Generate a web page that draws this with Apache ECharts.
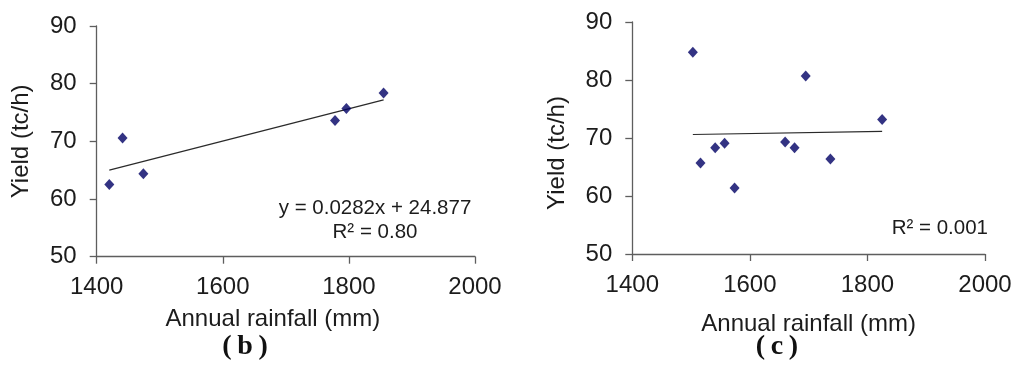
<!DOCTYPE html>
<html>
<head>
<meta charset="utf-8">
<script src="https://cdn.jsdelivr.net/npm/echarts@6/dist/echarts.min.js"></script>
<style>
html,body{margin:0;padding:0;background:#fff;}
#chart{width:1024px;height:370px;}
</style>
</head>
<body>
<div id="chart"></div>
<script>
// Panel (b)
var rainB = [1420, 1441, 1474, 1778, 1796, 1855];
var yieldB = [62.5, 70.6, 64.4, 73.6, 75.7, 78.4];
var trendB = [[1420, 65.0], [1855, 77.2]];
var eqB = ['y = 0.0282x + 24.877', 'R\u00B2 = 0.80'];

// Panel (c)
var rainC = [1503, 1516, 1541, 1557, 1574, 1660, 1676, 1695, 1737, 1825];
var yieldC = [84.8, 65.7, 68.3, 69.1, 61.4, 69.3, 68.3, 80.7, 66.4, 73.2];
var trendC = [[1503, 70.6], [1825, 71.15]];
var eqC = ['R\u00B2 = 0.001'];

var xTicks = {min: 1400, max: 2000, interval: 200};
var yTicks = {min: 50, max: 90, interval: 10};
var xTitle = 'Annual rainfall (mm)';
var yTitle = 'Yield (tc/h)';
var panelLabels = ['(\u2009b\u2009)', '(\u2009c\u2009)'];

function pairs(xs, ys) { return xs.map(function (x, i) { return [x, ys[i]]; }); }

var FONT = '"Liberation Sans", Arial, sans-serif';
var TXT = '#1c1c1c';
var AX = '#5e5e5e';

function xAxis(gridIndex, gap, pad, margin) {
  return {
    type: 'value', gridIndex: gridIndex,
    min: xTicks.min, max: xTicks.max, interval: xTicks.interval,
    name: xTitle, nameLocation: 'middle', nameGap: gap,
    nameTextStyle: {fontFamily: FONT, fontSize: 24, color: TXT, padding: pad},
    axisLine: {show: true, lineStyle: {color: AX, width: 1.3}},
    axisTick: {show: true, length: 7, inside: false, lineStyle: {color: AX, width: 1.3}},
    axisLabel: {fontFamily: FONT, fontSize: 24, color: TXT, margin: margin, formatter: function (v) { return String(v); }},
    splitLine: {show: false}
  };
}
function yAxis(gridIndex, gap, pad) {
  return {
    type: 'value', gridIndex: gridIndex,
    min: yTicks.min, max: yTicks.max, interval: yTicks.interval,
    name: yTitle, nameLocation: 'middle', nameGap: gap, nameRotate: 90,
    nameTextStyle: {fontFamily: FONT, fontSize: 24, color: TXT, padding: pad},
    axisLine: {show: true, lineStyle: {color: AX, width: 1.3}},
    axisTick: {show: true, length: 7, inside: false, lineStyle: {color: AX, width: 1.3}},
    axisLabel: {fontFamily: FONT, fontSize: 24, color: TXT, margin: 20},
    splitLine: {show: false}
  };
}
function scatter(i, data) {
  return {
    type: 'scatter', xAxisIndex: i, yAxisIndex: i, data: data,
    symbol: 'diamond', symbolSize: [10, 11],
    itemStyle: {color: '#000064'}, silent: true, z: 3
  };
}
function trend(i, data) {
  return {
    type: 'line', xAxisIndex: i, yAxisIndex: i, data: data,
    symbol: 'none', lineStyle: {color: '#2a2a2a', width: 1.2}, silent: true, z: 2
  };
}

var chart = echarts.init(document.getElementById('chart'), null, {renderer: 'canvas'});
chart.setOption({
  animation: false,
  backgroundColor: '#fff',
  grid: [
    {left: 96.7, top: 26, right: 549, bottom: 113.3},
    {left: 632.3, top: 22, right: 39, bottom: 116}
  ],
  xAxis: [xAxis(0, 51, [0, 26, 0, 0], 19), xAxis(1, 58, [0, 0, 0, 0], 19)],
  yAxis: [yAxis(0, 63, [0, 0, 0, 0]), yAxis(1, 63, [0, 30, 0, 0])],
  series: [
    scatter(0, pairs(rainB, yieldB)),
    trend(0, trendB),
    scatter(1, pairs(rainC, yieldC)),
    trend(1, trendC)
  ],
  graphic: [
    {type: 'text', x: 375, y: 196, style: {text: eqB.join('\n'), fontFamily: FONT, fontSize: 20.5, lineHeight: 24, fill: TXT, align: 'center', verticalAlign: 'top'}},
    {type: 'text', x: 988, y: 218, style: {text: eqC[0], fontFamily: FONT, fontSize: 20.5, fill: TXT, align: 'right', verticalAlign: 'top'}},
    {type: 'text', x: 245, y: 333, style: {text: panelLabels[0], fontFamily: '"Liberation Serif", "Times New Roman", serif', fontWeight: 'bold', fontSize: 28, fill: '#111', align: 'center', verticalAlign: 'top'}},
    {type: 'text', x: 777, y: 333, style: {text: panelLabels[1], fontFamily: '"Liberation Serif", "Times New Roman", serif', fontWeight: 'bold', fontSize: 28, fill: '#111', align: 'center', verticalAlign: 'top'}}
  ]
});
</script>
</body>
</html>
